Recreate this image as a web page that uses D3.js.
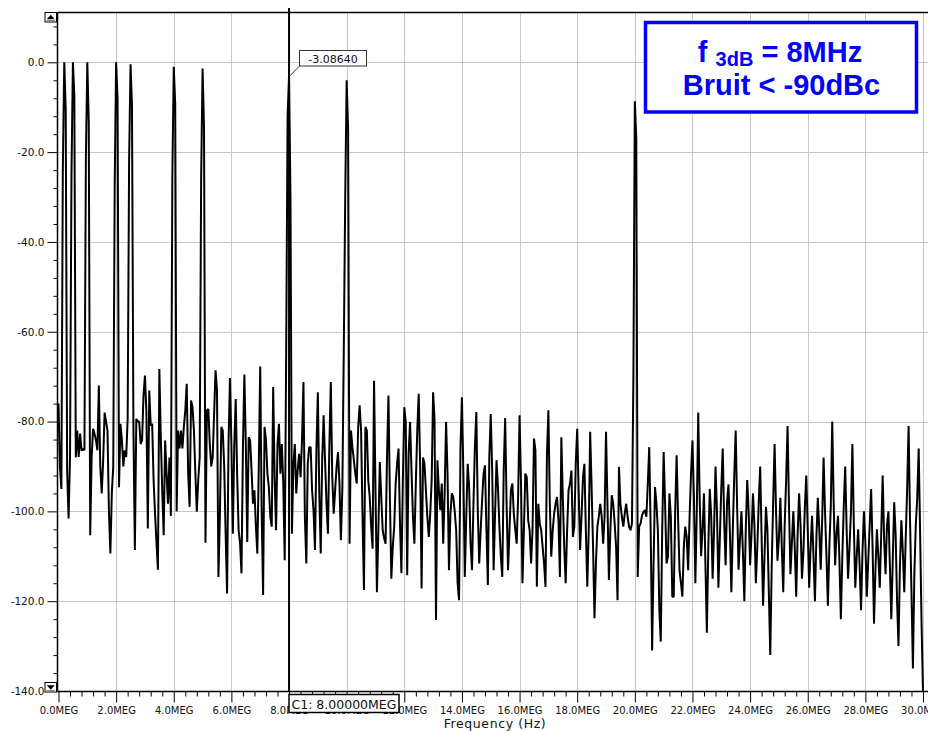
<!DOCTYPE html>
<html><head><meta charset="utf-8">
<script src="https://cdn.jsdelivr.net/npm/d3@7/dist/d3.min.js"></script>
<style>html,body{margin:0;padding:0;background:#fff;}svg{display:block;}</style>
</head><body>
<svg id="chart" width="928" height="731"></svg>
<script>
// ---------- DATA ----------
const binStepHz = 50000; // spectrum bin spacing (0 .. 30 MHz)
const spectrumDb = [
 -76,-90,-95,-24,0,-10.4,-91,-101.6,-88,-25.4,0,-7.5,-88,-82,-87.9,-82.7,-86.5,-86,-86.4,-21.4,
 0,-13.3,-105.3,-88,-81.6,-82.7,-84.2,-86.4,-72,-90,-96,-88.6,-78,-80,-82,-100,-109.4,-96,-90,-27.5,
 0,-8.1,-94.6,-80.5,-84.2,-90,-86.4,-87.9,-79.4,-22,-0.45,-9.6,-81.6,-108.6,-79.4,-80,-80,-85,-84.2,-74.2,
 -69.75,-77.9,-103.8,-73.1,-80.9,-80.5,-93,-100.5,-107,-113,-68.3,-83.5,-95.3,-105.3,-84.2,-91.6,-98.3,-88,-101,-26,
 -1,-9.3,-100,-82,-86,-82,-86,-81.2,-77.5,-71.6,-91.6,-99,-75.3,-76.8,-82,-91.6,-100.1,-93,-88,-26,
 -1.4,-14.7,-107,-77.5,-77.2,-85,-90,-88,-78.3,-68.6,-73,-114.6,-101.2,-81.2,-82,-90,-105,-118.3,-85,-70.3,
 -85,-105,-85,-75,-92,-104.2,-107,-113.8,-85.7,-69.5,-85,-106.8,-83.5,-84.2,-90.9,-98.3,-95.3,-103.4,-109.4,-90.1,
 -67.75,-99.75,-118.6,-81.2,-84.2,-91.6,-94.6,-101.2,-103.4,-72.3,-92.4,-104.2,-85,-80.5,-91.6,-85,-93.8,-110.9,-65.7,-12,
 -3.09,-30,-105,-90,-85,-96,-90.9,-87.2,-92.4,-84.2,-71.2,-101.2,-111.6,-89.4,-85.7,-85.7,-95.3,-99.75,-108.6,-86.4,
 -73.5,-96,-109.4,-88.6,-78.6,-88.6,-98.3,-105,-85.3,-71.2,-92.4,-100.5,-95.3,-90.1,-86.8,-93.8,-106.4,-95,-64.2,-30,
 -4,-15,-107.2,-82,-85.7,-88.6,-91.6,-93.8,-81.2,-76.4,-82,-101.2,-117.5,-81.2,-82,-93.1,-96.8,-103.4,-108.3,-70.9,
 -95,-118,-104.2,-89,-96.8,-104.2,-106,-107.2,-87.9,-74.2,-96.8,-115,-108,-103.4,-93.8,-89.4,-86,-102.7,-113.8,-93.1,
 -76.8,-80.1,-114.2,-87.2,-80.1,-90.9,-101.2,-107.2,-93.8,-82,-73.8,-90,-117.2,-88,-89.4,-95.3,-101.2,-105.7,-100.5,-93.1,
 -73.5,-79.8,-124.2,-88.6,-95.3,-99.75,-93.8,-107.2,-96,-80.1,-91.6,-113.1,-100.5,-96,-96.8,-100,-104.2,-116,-119.8,-85.7,
 -74.6,-91.6,-114.6,-101.2,-89.4,-94.6,-107.2,-113.1,-98.3,-85.7,-77.9,-100,-111.6,-104.2,-97.5,-91.6,-89.75,-104.2,-116.4,-87.9,
 -78.3,-90.9,-113.1,-100.5,-88.6,-94.6,-103.4,-110.1,-114.6,-90.9,-79.2,-98.3,-113.1,-104.2,-95.3,-93.8,-100.5,-104,-107.2,-96.8,
 -78.6,-93.8,-116,-104.2,-91.6,-92.4,-102,-104.2,-111.6,-104.2,-83.8,-86.4,-116.8,-98.3,-102.7,-104.2,-107.9,-111.6,-116.8,-87.5,
 -77.5,-98.3,-110.1,-104.2,-100.5,-98.3,-96.8,-102,-114.6,-83.5,-96.8,-107.9,-116,-104.2,-95.3,-93.8,-90.9,-105.7,-103.4,-89.4,
 -81.6,-95.3,-108.6,-101.2,-92.4,-89.4,-104.2,-116.8,-104.2,-82.3,-94.6,-107.9,-123.8,-111.6,-103.4,-101.2,-98.3,-101.2,-107.2,-101.2,
 -82.3,-98.3,-115.3,-104.2,-96.4,-98.3,-102.7,-107.9,-119.8,-90.1,-98.3,-101.2,-103.4,-100.5,-98.3,-101.2,-103.4,-104.2,-102.7,-70,
 -8.7,-17,-114.6,-103.4,-102.7,-100.9,-100.1,-99.75,-101.2,-93.8,-85.7,-104.2,-131,-111.6,-94.6,-98.3,-104.2,-122,-129,-104.2,
 -86.8,-98.3,-111.6,-110,-96,-101.2,-119,-119,-100,-87.5,-101.2,-113.1,-116,-119,-107.9,-103.4,-105.7,-113.1,-101.2,-91.6,
 -84.2,-96.8,-116,-100,-78,-97,-110,-104,-96,-112,-127,-108,-95,-101,-115,-104,-90,-100,-117,-106,
 -95,-86,-102,-112,-98,-94,-105,-118,-104,-92,-82,-99,-113,-106,-100,-109,-120,-104,-93,-100,
 -112,-105,-96,-103,-116,-108,-98,-90,-106,-121,-110,-99,-104,-118,-132,-112,-98,-85,-100,-111,
 -106,-97,-108,-118,-103,-93,-81,-99,-114,-107,-100,-108,-119,-105,-96,-103,-115,-109,-99,-92,
 -104,-117,-108,-101,-110,-120,-106,-97,-104,-113,-102,-88,-100,-110,-121,-108,-99,-80,-98,-112,
 -105,-101,-111,-124,-110,-99,-90,-104,-115,-108,-100,-85,-103,-117,-110,-104,-112,-122,-109,-100,
 -107,-119,-111,-103,-95,-108,-125,-113,-104,-110,-117,-105,-92,-106,-114,-103,-100,-112,-124,-111,
 -98,-105,-120,-130,-112,-102,-109,-118,-106,-95,-81,-102,-118,-135,-114,-103,-97,-86,-105,-125,
 -140
];
const xTickValuesHz = [0,2e6,4e6,6e6,8e6,10e6,12e6,14e6,16e6,18e6,20e6,22e6,24e6,26e6,28e6,30e6];
const xTickLabels = ["0.0MEG","2.0MEG","4.0MEG","6.0MEG","8.0MEG","10.0MEG","12.0MEG","14.0MEG","16.0MEG","18.0MEG","20.0MEG","22.0MEG","24.0MEG","26.0MEG","28.0MEG","30.0MEG"];
const yTickValues = [0,-20,-40,-60,-80,-100,-120,-140];
const yTickLabels = ["0.0","-20.0","-40.0","-60.0","-80.0","-100.0","-120.0","-140.0"];
const xTitle = "Frequency (Hz)";
const cursorFreqHz = 8e6;
const cursorValueDb = -3.0864;
const cursorValueLabel = "-3.08640";
const cursorFreqLabel = "C1: 8.00000MEG";
const noteMain1 = "f", noteSub = "3dB", noteMain1b = "= 8MHz";
const noteLine2 = "Bruit < -90dBc";

// ---------- LAYOUT ----------
const W = 928, H = 731;
const plotLeft = 57.5, plotTop = 12.5, plotRight = 928, plotBottom = 691.5;
const svg = d3.select("#chart");
svg.append("rect").attr("width", W).attr("height", H).attr("fill", "#fff");

const x = d3.scaleLinear().domain([0, 30e6]).range([58.5, 923]);
const y = d3.scaleLinear().domain([-140, 0]).range([691, 62.3]);

const tickFont = "'DejaVu Sans', Verdana, sans-serif";

// gridlines
const grid = svg.append("g").attr("stroke", "#c8c8c8").attr("stroke-width", 1);
xTickValuesHz.filter(v => v > 0).forEach(v => {
  const px = Math.round(x(v)) + 0.5;
  grid.append("line").attr("x1", px).attr("x2", px).attr("y1", plotTop).attr("y2", plotBottom);
});
yTickValues.filter(v => v > -140).forEach(v => {
  const py = Math.round(y(v)) + 0.5;
  grid.append("line").attr("x1", plotLeft).attr("x2", plotRight).attr("y1", py).attr("y2", py);
});

// y axis (major + minor)
const yMinor = d3.range(-136, 12, 4).filter(v => v % 20 !== 0);
const yAxisMajor = d3.axisLeft(y).tickValues(yTickValues).tickSize(10).tickPadding(3)
  .tickFormat((d, i) => yTickLabels[i]);
const gy = svg.append("g").attr("transform", `translate(${plotLeft},0)`).call(yAxisMajor);
gy.select(".domain").remove();
gy.selectAll("text").attr("font-family", tickFont).attr("font-size", "10.5px").attr("fill", "#111");
gy.selectAll("line").attr("stroke", "#000");
const yScaleExt = d3.scaleLinear().domain([-140, 11.1]).range([691, plotTop]);
const gym = svg.append("g").attr("transform", `translate(${plotLeft},0)`)
  .call(d3.axisLeft(yScaleExt).tickValues(yMinor).tickSize(4).tickFormat(""));
gym.select(".domain").remove();
gym.selectAll("line").attr("stroke", "#000");

// x axis (major + minor)
const xAxisMajor = d3.axisBottom(x).tickValues(xTickValuesHz).tickSize(11).tickPadding(4)
  .tickFormat((d, i) => xTickLabels[i]);
const gx = svg.append("g").attr("transform", `translate(0,${plotBottom})`).call(xAxisMajor);
gx.select(".domain").remove();
gx.selectAll("text").attr("font-family", tickFont).attr("font-size", "10px").attr("fill", "#111");
gx.selectAll("line").attr("stroke", "#000");
const xMinor = d3.range(0, 30.01e6, 0.4e6).filter(v => Math.abs(v / 2e6 - Math.round(v / 2e6)) > 1e-6);
const gxm = svg.append("g").attr("transform", `translate(0,${plotBottom})`)
  .call(d3.axisBottom(x).tickValues(xMinor).tickSize(5).tickFormat(""));
gxm.select(".domain").remove();
gxm.selectAll("line").attr("stroke", "#000");

// axis title
svg.append("text").attr("x", 495).attr("y", 727.5).attr("text-anchor", "middle")
  .attr("font-family", tickFont).attr("font-size", "12.5px").attr("letter-spacing", "0.6px")
  .attr("fill", "#111").text(xTitle);

// data trace
svg.append("clipPath").attr("id", "plotclip").append("rect")
  .attr("x", plotLeft).attr("y", plotTop).attr("width", plotRight - plotLeft).attr("height", plotBottom - plotTop);
const line = d3.line().x((d, i) => x(i * binStepHz)).y(d => y(d));
svg.append("path").datum(spectrumDb).attr("clip-path", "url(#plotclip)")
  .attr("d", line).attr("fill", "none").attr("stroke", "#000")
  .attr("stroke-width", 2).attr("stroke-linejoin", "bevel");

// plot frame lines
svg.append("line").attr("x1", plotLeft).attr("x2", plotRight).attr("y1", plotTop).attr("y2", plotTop)
  .attr("stroke", "#000").attr("stroke-width", 1.5);
svg.append("line").attr("x1", plotLeft).attr("x2", plotLeft).attr("y1", plotTop).attr("y2", plotBottom)
  .attr("stroke", "#000").attr("stroke-width", 1.5);
svg.append("line").attr("x1", plotLeft).attr("x2", plotRight).attr("y1", plotBottom).attr("y2", plotBottom)
  .attr("stroke", "#000").attr("stroke-width", 1.5);

// scroll buttons
function scrollButton(bx, by, up) {
  const g = svg.append("g");
  g.append("rect").attr("x", bx).attr("y", by).attr("width", 11.5).attr("height", 9.5)
    .attr("fill", "#fff").attr("stroke", "#000").attr("stroke-width", 1);
  g.append("line").attr("x1", bx + 1.5).attr("x2", bx + 10).attr("y1", by + 8).attr("y2", by + 8).attr("stroke", "#888");
  const cx = bx + 5.75, cy = by + 4.75;
  const pts = up ? [[cx - 4, cy + 2], [cx + 4, cy + 2], [cx, cy - 2.5]] : [[cx - 4, cy - 2], [cx + 4, cy - 2], [cx, cy + 2.5]];
  g.append("path").attr("d", d3.line()(pts) + "Z").attr("fill", "#000");
}
scrollButton(45, 12.5, true);
scrollButton(45, 682.5, false);

// cursor
const cx = x(cursorFreqHz);
svg.append("line").attr("x1", cx).attr("x2", cx).attr("y1", 8).attr("y2", plotBottom)
  .attr("stroke", "#000").attr("stroke-width", 2);
svg.append("line").attr("x1", 299.5).attr("y1", 66).attr("x2", cx + 0.5).attr("y2", y(cursorValueDb))
  .attr("stroke", "#333").attr("stroke-width", 1);
svg.append("rect").attr("x", 299.5).attr("y", 50.5).attr("width", 67).attr("height", 15.5)
  .attr("fill", "#fff").attr("stroke", "#333").attr("stroke-width", 1);
svg.append("text").attr("x", 333).attr("y", 62.5).attr("text-anchor", "middle")
  .attr("font-family", tickFont).attr("font-size", "11px").attr("fill", "#111").text(cursorValueLabel);

svg.append("rect").attr("x", 289).attr("y", 694.5).attr("width", 110).attr("height", 18)
  .attr("fill", "#fff").attr("stroke", "#000").attr("stroke-width", 1.5);
svg.append("text").attr("x", 291.5).attr("y", 708.5)
  .attr("font-family", tickFont).attr("font-size", "12.5px").attr("fill", "#111").text(cursorFreqLabel);

// annotation box
svg.append("rect").attr("x", 645.5).attr("y", 22.5).attr("width", 271).attr("height", 89.5)
  .attr("fill", "#fff").attr("stroke", "#0000ff").attr("stroke-width", 3.5);
const noteFont = "'Liberation Sans', Arial, sans-serif";
const t1 = svg.append("text").attr("x", 780).attr("y", 61.5).attr("text-anchor", "middle")
  .attr("font-family", noteFont).attr("font-weight", "bold").attr("font-size", "29px").attr("fill", "#0000ff");
t1.append("tspan").text(noteMain1 + " ");
t1.append("tspan").attr("font-size", "20px").attr("dy", 4).text(noteSub);
t1.append("tspan").attr("dy", -4).text(" " + noteMain1b);
svg.append("text").attr("x", 781.5).attr("y", 95).attr("text-anchor", "middle")
  .attr("font-family", noteFont).attr("font-weight", "bold").attr("font-size", "29px").attr("fill", "#0000ff")
  .text(noteLine2);
</script>
</body></html>
